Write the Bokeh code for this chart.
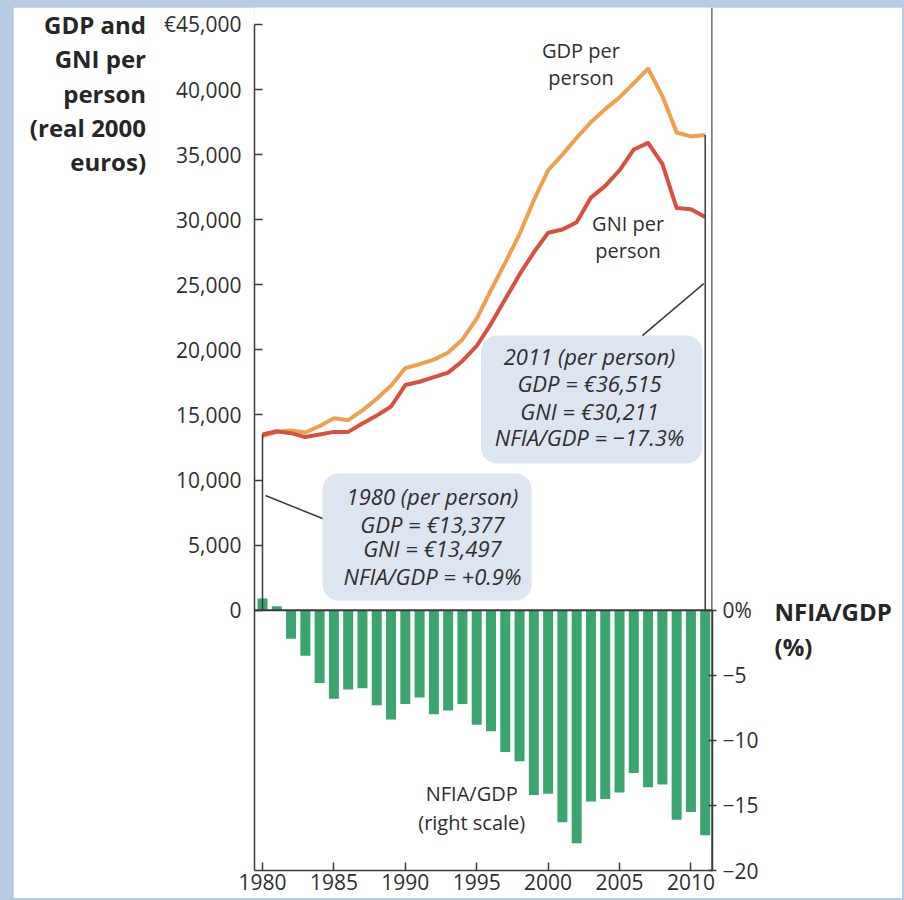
from bokeh.plotting import figure
from bokeh.models import (Range1d, LinearAxis, FixedTicker, Span, Label,
                          BoxAnnotation, CustomJSTickFormatter)
from bokeh.embed import file_html
from bokeh.resources import INLINE

years = list(range(1980, 2012))
gdp = [13377, 13700, 13800, 13650, 14150, 14750, 14600, 15350, 16250, 17250,
       18600, 18900, 19250, 19800, 20800, 22400, 24600, 26700, 28900, 31500,
       33800, 35000, 36300, 37500, 38500, 39400, 40500, 41600, 39500, 36700,
       36400, 36515]
gni = [13497, 13750, 13600, 13300, 13500, 13700, 13700, 14350, 14950, 15650,
       17300, 17550, 17900, 18250, 19150, 20300, 22000, 23900, 25800, 27500,
       29000, 29250, 29800, 31700, 32600, 33800, 35400, 35900, 34300, 30900,
       30800, 30211]
nfia = [0.9, 0.3, -2.2, -3.5, -5.6, -6.8, -6.1, -6.0, -7.3, -8.4,
        -7.2, -6.7, -8.0, -7.7, -7.2, -8.8, -9.3, -10.9, -11.6, -14.2,
        -14.1, -16.3, -17.9, -14.7, -14.5, -14.0, -12.5, -13.6, -13.4, -16.1,
        -15.5, -17.3]
left_ticks = [0, 5000, 10000, 15000, 20000, 25000, 30000, 35000, 40000, 45000]
right_ticks = [0, -5, -10, -15, -20]
year_ticks = [1980, 1985, 1990, 1995, 2000, 2005, 2010]
left_title = ["GDP and", "GNI per", "person", "(real 2000", "euros)"]
right_title = ["NFIA/GDP", "(%)"]

FONT = "Open Sans"
TXT = "#2e2e2e"
AX = "#3a3a3a"
ORANGE = "#eea04e"
RED = "#d8503f"
GREEN = "#3ba56f"
BOX = "#dde5f1"

X0, X1 = 1979.44, 2011.51
YTOP = 46306

p = figure(width=889, height=891, x_range=Range1d(X0, X1),
           y_range=Range1d(-20000, YTOP), output_backend="svg",
           toolbar_location=None, min_border_left=241, min_border_right=190,
           min_border_top=0, min_border_bottom=28)
p.extra_y_ranges = {"pct": Range1d(-20, YTOP / 1000)}
p.outline_line_color = None
p.xgrid.visible = False
p.ygrid.visible = False
p.background_fill_color = "white"
p.border_fill_color = "white"


def style_axis(a):
    a.minor_tick_line_color = None
    a.axis_line_color = AX
    a.axis_line_width = 1.5
    a.major_tick_line_color = AX
    a.major_tick_line_width = 1.5
    a.major_label_text_font = FONT
    a.major_label_text_font_size = "21px"
    a.major_label_text_color = TXT
    a.axis_label_text_font = FONT
    a.axis_label_text_font_size = "24px"
    a.axis_label_text_font_style = "bold"
    a.axis_label_text_color = "#262626"


# bottom axis
xa = p.xaxis[0]
style_axis(xa)
xa.ticker = FixedTicker(ticks=year_ticks)
xa.major_tick_in = 8
xa.major_tick_out = 0
xa.major_label_standoff = 3

# left axis with its title (the label block is centred on the frame top,
# so it is pushed down by leading empty lines)
ya = p.yaxis[0]
style_axis(ya)
ya.ticker = FixedTicker(ticks=left_ticks)
ya.formatter = CustomJSTickFormatter(
    code="return (tick == 45000 ? '\u20ac' : '') + Math.round(tick).toLocaleString('en-US');")
ya.bounds = (-20000, 45000)
ya.major_tick_in = 8
ya.major_tick_out = 0
ya.major_label_standoff = 13
ya.axis_label = "\n" * len(left_title) + "\n".join(left_title)
ya.axis_label_orientation = "horizontal"
ya.axis_label_align = "end"
ya.axis_label_text_align = "right"
ya.axis_label_text_line_height = 1.04
ya.axis_label_standoff = 15

# right axis with its title (label block centred on the frame middle,
# pushed down to the zero level by leading empty lines)
ra = LinearAxis(y_range_name="pct", ticker=FixedTicker(ticks=right_ticks),
                formatter=CustomJSTickFormatter(
                    code="return tick == 0 ? '0%' : '\u2212' + Math.abs(tick);"))
style_axis(ra)
ra.bounds = (-20, 0)
ra.major_tick_in = 4
ra.major_tick_out = 4
ra.major_label_standoff = 6
ra.axis_label = "\n" * 11 + "\n".join(right_title)
ra.axis_label_orientation = "horizontal"
ra.axis_label_align = "center"
ra.axis_label_text_align = "left"
ra.axis_label_text_line_height = 1.046
ra.axis_label_standoff = 13
p.add_layout(ra, "right")

# right frame line above the zero level
p.add_layout(Span(location=X1 - 0.03, dimension="height", line_color=AX,
                  line_width=1.5))

# bars
p.vbar(x=years, top=nfia, bottom=0, width=0.7, y_range_name="pct",
       fill_color=GREEN, line_color=None)

# zero line
p.add_layout(Span(location=0, dimension="width", line_color=AX, line_width=2))

# annotation boxes
p.add_layout(BoxAnnotation(left=1984.2, right=1998.85, bottom=750, top=10500,
                           fill_color=BOX, fill_alpha=1, line_color=None,
                           border_radius=16, level="underlay"))
p.add_layout(BoxAnnotation(left=1995.3, right=2010.8, bottom=11270, top=21100,
                           fill_color=BOX, fill_alpha=1, line_color=None,
                           border_radius=16, level="underlay"))

# lines
p.line(years, gdp, line_width=4, line_color=ORANGE, line_join="round")
p.line(years, gni, line_width=4, line_color=RED, line_join="round")

# drop lines at first and last year
p.segment(x0=[years[0], years[-1]], y0=[0, 0], x1=[years[0], years[-1]],
          y1=[gni[0], gdp[-1]], line_color=AX, line_width=1.5)
# leader lines
p.segment(x0=[1980.2, 2010.9], y0=[8810, 25090], x1=[1984.2, 2006.6],
          y1=[7050, 21100], line_color=AX, line_width=1.5)


def lab(x, y, text, size="20px", style="normal", align="center", rng="default"):
    p.add_layout(Label(x=x, y=y, text=text, text_font=FONT, text_font_size=size,
                       text_font_style=style, text_align=align,
                       text_baseline="middle", text_color=TXT,
                       y_range_name=rng))


# series labels
lab(2002.3, 43000, "GDP per")
lab(2002.3, 40900, "person")
lab(2005.6, 29700, "GNI per")
lab(2005.6, 27600, "person")
lab(1994.65, -14.08, "NFIA/GDP", rng="pct")
lab(1994.65, -16.3, "(right scale)", rng="pct")

# box texts
for t, yy in [("1980 (per person)", 8810), ("GDP = \u20ac13,377", 6660),
              ("GNI = \u20ac13,497", 4740), ("NFIA/GDP = +0.9%", 2650)]:
    lab(1991.9, yy, t, size="22px", style="italic")
for t, yy in [("2011 (per person)", 19560), ("GDP = \u20ac36,515", 17420),
              ("GNI = \u20ac30,211", 15340), ("NFIA/GDP = \u221217.3%", 13270)]:
    lab(2002.9, yy, t, size="22px", style="italic")

html = file_html(p, INLINE)
html = html.replace(
    "</head>",
    "<style>html, body { background-color: #b7cbe4; } "
    "body { padding: 7px 2px 2px 13px !important; }</style></head>", 1)
open("out.html", "w").write(html)
